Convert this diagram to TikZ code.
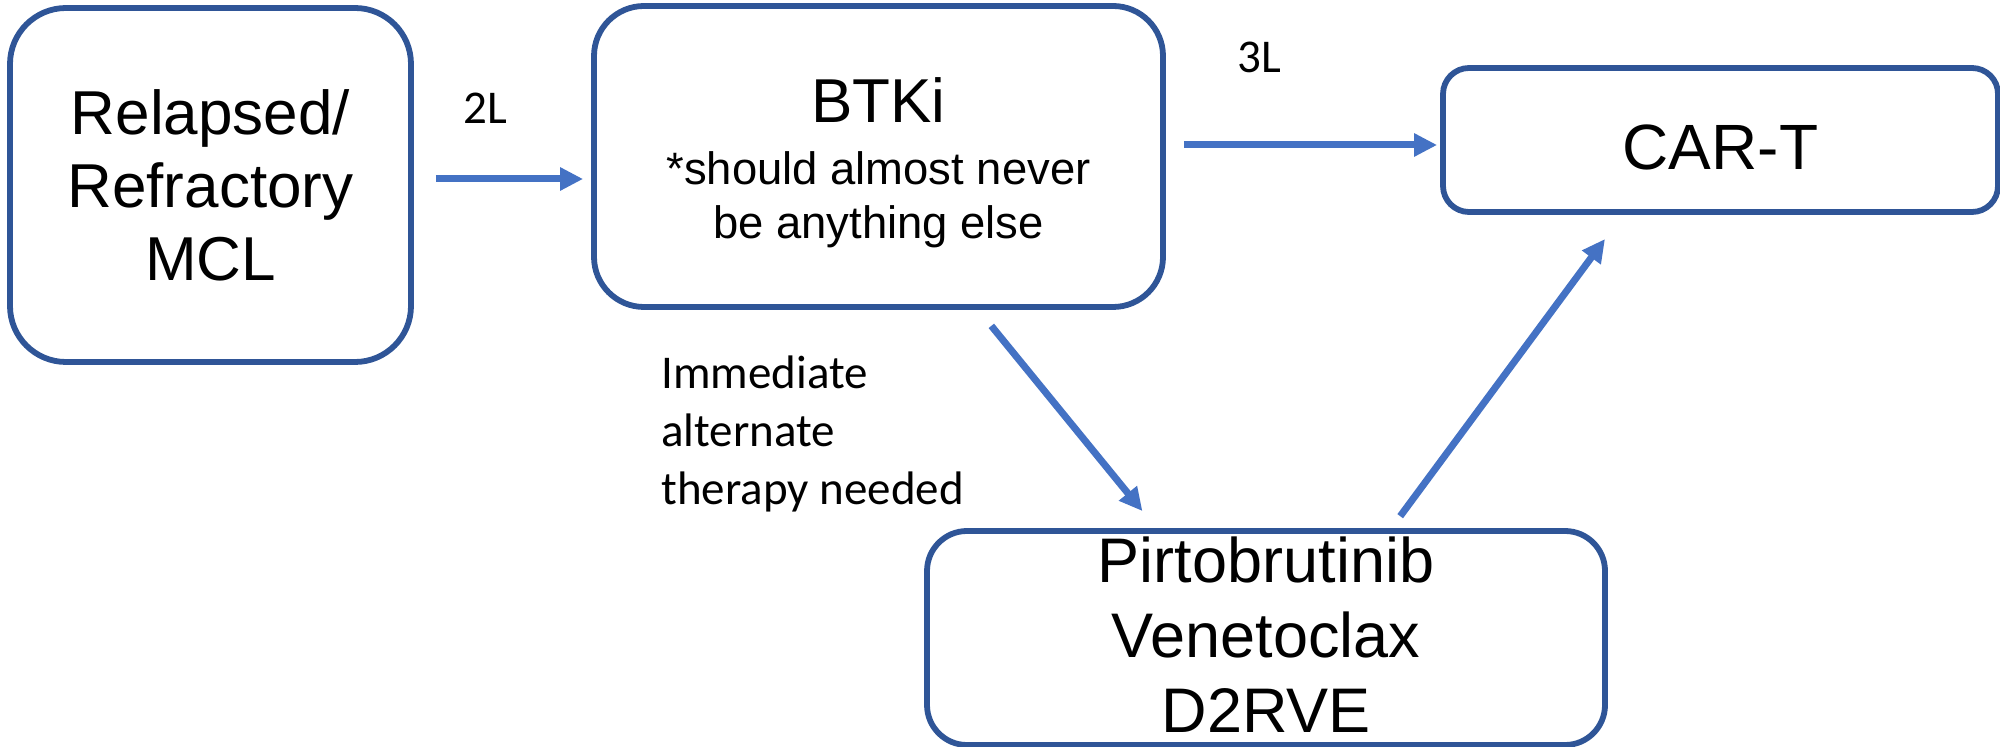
\documentclass[tikz,border=0pt]{standalone}
\usepackage{fontspec}
\setmainfont{Liberation Sans}
\newfontfamily\labfont{Carlito}
\usetikzlibrary{arrows.meta}
\definecolor{boxblue}{HTML}{2F5597}
\definecolor{arrblue}{HTML}{4472C4}
\tikzset{
  stagebox/.style={draw=boxblue, line width=2.9pt, align=center, inner sep=0pt, fill=white},
  arr/.style={draw=arrblue, line width=3.5pt, -{Triangle[length=11.5pt,width=11pt]}},
  lab/.style={font=\labfont\fontsize{23.5}{29}\selectfont, inner sep=0pt, align=left}
}
\begin{document}
\begin{tikzpicture}[x=0.5pt,y=-0.5pt]
\useasboundingbox (0,0) rectangle (2000,747);
\node[stagebox, rounded corners=28pt, minimum width=200.5pt, minimum height=177pt,
  font=\fontsize{31}{36.5}\selectfont] (rr) at (210.5,185) {Relapsed/\\Refractory\\MCL};
\node[stagebox, rounded corners=25pt, minimum width=284.5pt, minimum height=150.5pt,
  font=\fontsize{22.7}{27}\selectfont] (btk) at (878.5,156.5)
  {\fontsize{31}{36}\selectfont\rule{0pt}{29pt}BTKi\\[4pt]\fontsize{22.7}{27}\selectfont *should almost never\\be anything else};
\node[stagebox, rounded corners=13pt, minimum width=277.5pt, minimum height=72pt,
  font=\fontsize{32}{38}\selectfont] (cart) at (1720.5,140) {\rule{0pt}{29.5pt}CAR-T};
\node[stagebox, rounded corners=20pt, minimum width=339pt, minimum height=107pt,
  font=\fontsize{31.5}{37.5}\selectfont] (pir) at (1266,638) {Pirtobrutinib\\Venetoclax\\D2RVE\rule[-3pt]{0pt}{3pt}};
% connectors
\draw[arr, shorten <=11pt, shorten >=4pt] (rr.east |- 0,179) -- (btk.west |- 0,179);
\draw[arr, shorten <=9pt, shorten >=1.5pt] (btk.east |- 0,145) -- (cart.west |- 0,145);
\draw[arr, shorten <=10.3pt, shorten >=11pt] (btk.south -| 978.3,0) -- (pir.north -| 1156.3,0);
\draw[arr, shorten <=7.4pt, shorten >=15pt] (pir.north -| 1391.4,0) -- (cart.south -| 1622.8,0);
% labels
\node[lab] (l2) at (485,108) {2L};
\node[lab] (l3) at (1259,57) {3L};
\node[lab, anchor=north west] (imm) at (661,355) {Immediate\\alternate\\therapy needed};
\end{tikzpicture}
\end{document}
